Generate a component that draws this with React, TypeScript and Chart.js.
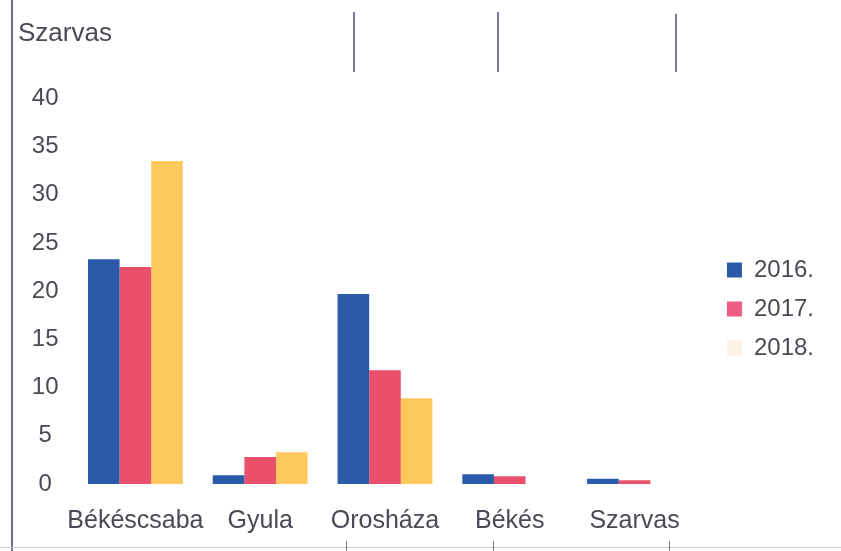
import React, { useEffect, useRef } from "react";
import { Chart, registerables } from "chart.js";

Chart.register(...registerables);

const categories = ["Békéscsaba", "Gyula", "Orosháza", "Békés", "Szarvas"];
const seriesNames = ["2016.", "2017.", "2018."];
const values2016 = [23.3, 0.9, 19.7, 1.0, 0.55];
const values2017 = [22.5, 2.8, 11.8, 0.8, 0.4];
const values2018 = [33.5, 3.3, 8.9, 0, 0];
const yTicks = [0, 5, 10, 15, 20, 25, 30, 35, 40];
const titleText = "Szarvas";

const COLORS = ["#2b5ba8", "#ea506b", "#fdc95c"];
const LEGEND_COLORS = ["#2b5ba8", "#ef5d86", "#fbf4e6"];
const TEXT = "#4a4a54";
const FONT = "'Liberation Sans', Arial, sans-serif";

export default function App() {
  const ref = useRef<HTMLCanvasElement | null>(null);

  useEffect(() => {
    if (!ref.current) return;
    const chart = new Chart(ref.current, {
      type: "bar",
      data: {
        labels: categories,
        datasets: [values2016, values2017, values2018].map((d, i) => ({
          label: seriesNames[i],
          data: d,
          backgroundColor: COLORS[i],
          borderWidth: 0,
          categoryPercentage: 0.76,
          barPercentage: 1,
        })),
      },
      options: {
        animation: false,
        responsive: false,
        devicePixelRatio: 1,
        layout: { padding: { left: 18, right: 17, top: 0, bottom: 15 } },
        plugins: {
          tooltip: { enabled: false },
          title: {
            display: true,
            text: titleText,
            align: "start",
            color: TEXT,
            font: { family: FONT, size: 26, weight: "normal" },
            padding: { top: 18, bottom: 49 },
          },
          legend: {
            position: "right",
            title: {
              display: true,
              text: " ",
              font: { family: FONT, size: 24 },
              padding: 26.6,
            },
            labels: {
              boxWidth: 15,
              boxHeight: 15,
              padding: 15,
              color: TEXT,
              font: { family: FONT, size: 24 },
              generateLabels: (c: any) => {
                const items = Chart.defaults.plugins.legend.labels.generateLabels(c);
                return items.map((it: any, i: number) => ({
                  ...it,
                  fillStyle: LEGEND_COLORS[i],
                  strokeStyle: LEGEND_COLORS[i],
                  lineWidth: 0,
                }));
              },
            },
          },
        },
        scales: {
          x: {
            grid: { display: false, drawTicks: false },
            border: { display: false },
            afterFit: (s: any) => {
              s.height = 52;
            },
            ticks: {
              color: TEXT,
              font: { family: FONT, size: 25 },
              padding: 22,
              maxRotation: 0,
              autoSkip: false,
            },
          },
          y: {
            min: 0,
            max: 40,
            grid: { display: false, drawTicks: false },
            border: { display: false },
            afterFit: (s: any) => {
              s.width = 55;
            },
            afterBuildTicks: (s: any) => {
              s.ticks = yTicks.map((v) => ({ value: v }));
            },
            ticks: {
              color: TEXT,
              font: { family: FONT, size: 24 },
              padding: 14.5,
              crossAlign: "center",
            },
          },
          yRight: {
            type: "linear",
            position: "right",
            display: true,
            grid: { display: false, drawTicks: false },
            border: { display: false },
            ticks: { display: false },
            afterFit: (s: any) => {
              s.width = 15;
            },
          },
        },
      },
    });
    return () => chart.destroy();
  }, []);

  const line = (style: React.CSSProperties) => (
    <div style={{ position: "absolute", background: "#7a7a98", ...style }} />
  );

  return (
    <div
      style={{
        position: "fixed",
        left: 0,
        top: 0,
        width: 841,
        height: 551,
        background: "#ffffff",
        overflow: "hidden",
      }}
    >
      <canvas ref={ref} width={841} height={551} style={{ display: "block" }} />
      {line({ left: 11, top: 0, width: 2, height: 551, background: "#6c6c8c" })}
      {line({ left: 0, top: 547, width: 841, height: 1, background: "#c9c9d2" })}
      {line({ left: 353, top: 12, width: 2, height: 60 })}
      {line({ left: 497, top: 12, width: 2, height: 60 })}
      {line({ left: 675, top: 14, width: 2, height: 58 })}
      {line({ left: 346, top: 541, width: 1, height: 10 })}
      {line({ left: 493, top: 541, width: 1, height: 10 })}
      {line({ left: 669, top: 541, width: 1, height: 10 })}
    </div>
  );
}
